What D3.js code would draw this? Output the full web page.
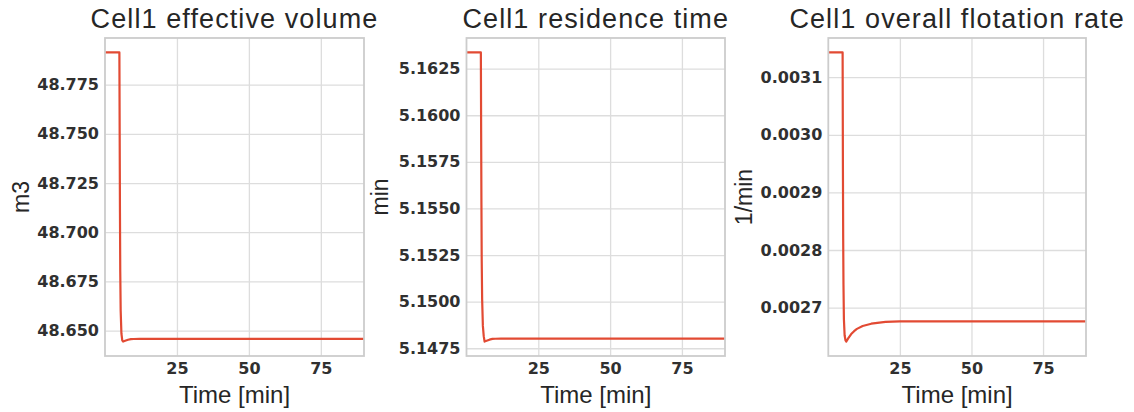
<!DOCTYPE html>
<html>
<head>
<meta charset="utf-8">
<script src="https://cdnjs.cloudflare.com/ajax/libs/d3/7.8.5/d3.min.js"></script>
<style>
  body { margin: 0; background: #fff; }
  .tick text { font-family: "DejaVu Sans", sans-serif; font-weight: bold; font-size: 16px; fill: #303030; }
  .grid line { stroke: #dddddd; stroke-width: 1.3; }
</style>
</head>
<body>
<svg id="chart" width="1134" height="412"></svg>
<script>
// simulated time [min]
const time = [0, 5, 5.1, 5.2, 5.3, 5.45, 5.7, 6.0, 6.3, 7, 8, 9, 10, 12, 15, 20, 25, 30, 45, 60, 75, 90];

const volume = [48.7914, 48.7914, 48.75, 48.71, 48.68, 48.66, 48.6485, 48.6450, 48.6444, 48.6448, 48.6453,
  48.6456, 48.6457, 48.6458, 48.6458, 48.6458, 48.6458, 48.6458, 48.6458, 48.6458, 48.6458, 48.6458];

const residence = [5.16337, 5.16337, 5.1590, 5.1552, 5.1522, 5.1501, 5.1487, 5.14815, 5.14786, 5.14790, 5.14796,
  5.14800, 5.14801, 5.14802, 5.14802, 5.14802, 5.14802, 5.14802, 5.14802, 5.14802, 5.14802, 5.14802];

const rate = [0.003143, 0.003143, 0.00295, 0.00282, 0.00274, 0.00268, 0.002652, 0.002643, 0.002641, 0.002647, 0.002654,
  0.002659, 0.002663, 0.002668, 0.002672, 0.002675, 0.002676, 0.002676, 0.002676, 0.002676, 0.002676, 0.002676];

const titles = ["Cell1 effective volume", "Cell1 residence time", "Cell1 overall flotation rate"];
const yLabels = ["m3", "min", "1/min"];
const timeTicks = [25, 50, 75];
const volumeTicks = [48.650, 48.675, 48.700, 48.725, 48.750, 48.775];
const residenceTicks = [5.1475, 5.1500, 5.1525, 5.1550, 5.1575, 5.1600, 5.1625];
const rateTicks = [0.0027, 0.0028, 0.0029, 0.0030, 0.0031];

const svg = d3.select("#chart");
const plotTop = 38, plotBottom = 356;

const panels = [
  {left: 105, right: 364, values: volume, ticks: volumeTicks, fmt: ".3f", labelX: 29},
  {left: 466.5, right: 725, values: residence, ticks: residenceTicks, fmt: ".4f", labelX: 388},
  {left: 828.3, right: 1086, values: rate, ticks: rateTicks, fmt: ".4f", labelX: 752}
];

panels.forEach((p, i) => {
  const w = p.right - p.left;
  const h = plotBottom - plotTop;

  const lo = d3.min(p.values), hi = d3.max(p.values);
  const pad = (hi - lo) * 0.05;

  const x = d3.scaleLinear().domain([0, 90]).range([0, w]);
  const y = d3.scaleLinear().domain([lo - pad, hi + pad]).range([h, 0]);

  const g = svg.append("g").attr("transform", `translate(${p.left},${plotTop})`);

  // grid + tick labels
  g.append("g")
    .attr("class", "grid")
    .call(d3.axisLeft(y).tickValues(p.ticks).tickFormat(d3.format(p.fmt)).tickSize(-w).tickPadding(6))
    .call(a => a.select(".domain").remove());

  g.append("g")
    .attr("class", "grid")
    .attr("transform", `translate(0,${h})`)
    .call(d3.axisBottom(x).tickValues(timeTicks).tickSize(-h).tickPadding(7))
    .call(a => a.select(".domain").remove());

  const line = d3.line()
    .x((d, j) => x(time[j]))
    .y(d => y(d));

  g.append("path")
    .datum(p.values)
    .attr("d", line)
    .attr("fill", "none")
    .attr("stroke", "#E24A33")
    .attr("stroke-width", 2.2)
    .attr("stroke-linejoin", "round");

  g.append("rect")
    .attr("width", w)
    .attr("height", h)
    .attr("fill", "none")
    .attr("stroke", "#cccccc")
    .attr("stroke-width", 1.8);

  // title
  svg.append("text")
    .attr("x", p.left + w / 2)
    .attr("y", 28)
    .attr("text-anchor", "middle")
    .style("font-family", "'Liberation Sans', Arial, sans-serif")
    .style("font-size", "27px")
    .style("letter-spacing", "1.1px")
    .style("fill", "#262626")
    .text(titles[i]);

  // x label
  svg.append("text")
    .attr("x", p.left + w / 2)
    .attr("y", 403)
    .attr("text-anchor", "middle")
    .style("font-family", "'Liberation Sans', Arial, sans-serif")
    .style("font-size", "24px")
    .style("fill", "#262626")
    .text("Time [min]");

  // y label
  svg.append("text")
    .attr("transform", "rotate(-90)")
    .attr("x", -(plotTop + h / 2))
    .attr("y", p.labelX)
    .attr("text-anchor", "middle")
    .style("font-family", "'Liberation Sans', Arial, sans-serif")
    .style("font-size", "23px")
    .style("fill", "#262626")
    .text(yLabels[i]);
});
</script>
</body>
</html>
